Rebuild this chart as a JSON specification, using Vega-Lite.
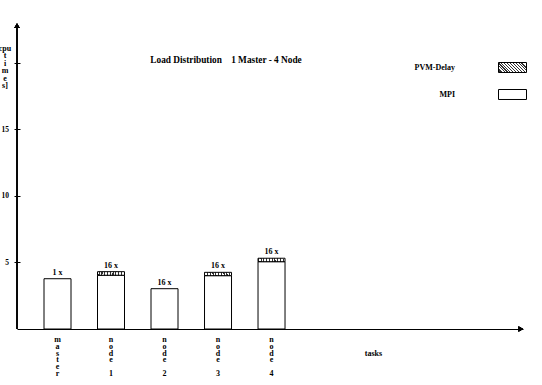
{
  "$schema": "https://vega.github.io/schema/vega-lite/v6.json",
  "width": 506,
  "height": 307,
  "autosize": {"type": "none"},
  "padding": {"left": 17, "top": 22, "right": 19, "bottom": 56},
  "background": "white",
  "title": {
    "text": "Load Distribution\u00a0\u00a0\u00a0 1 Master - 4 Node",
    "anchor": "middle",
    "frame": "group",
    "font": "Liberation Serif",
    "fontSize": 9.3,
    "fontWeight": "bold",
    "color": "black",
    "baseline": "alphabetic",
    "offset": 0,
    "dx": -44,
    "dy": 50
  },
  "config": {
    "view": {"stroke": null},
    "font": "Liberation Serif",
    "text": {"font": "Liberation Serif", "fontWeight": "bold", "fontSize": 8, "fill": "black"},
    "legend": {
      "orient": "none",
      "title": null,
      "padding": 0,
      "symbolType": "M-1,-0.357H1V0.357H-1Z",
      "symbolSize": 784,
      "symbolStrokeColor": "black",
      "symbolStrokeWidth": 1,
      "symbolOpacity": 1,
      "labelAlign": "right",
      "labelOffset": -72,
      "labelBaseline": "middle",
      "labelFont": "Liberation Serif",
      "labelFontWeight": "bold",
      "labelFontSize": 8,
      "labelColor": "black",
      "labelLimit": 0
    }
  },
  "data": {
    "values": [
      {"task": "master", "pos": 1, "MPI": 3.78, "PVM-Delay": 0, "runs": "1 x"},
      {"task": "node 1", "pos": 2, "MPI": 4.04, "PVM-Delay": 0.27, "runs": "16 x"},
      {"task": "node 2", "pos": 3, "MPI": 3.03, "PVM-Delay": 0, "runs": "16 x"},
      {"task": "node 3", "pos": 4, "MPI": 4.01, "PVM-Delay": 0.25, "runs": "16 x"},
      {"task": "node 4", "pos": 5, "MPI": 5.06, "PVM-Delay": 0.26, "runs": "16 x"}
    ]
  },
  "resolve": {"scale": {"stroke": "independent"}, "legend": {"stroke": "independent"}},
  "layer": [
    {
      "transform": [
        {"fold": ["MPI", "PVM-Delay"], "as": ["series", "time"]},
        {"stack": "time", "groupby": ["pos"], "sort": [{"field": "series", "order": "ascending"}], "as": ["t0", "t1"]},
        {"filter": "datum.series === 'MPI'"}
      ],
      "mark": {"type": "bar", "size": 27, "strokeWidth": 1, "fill": "white", "opacity": 1},
      "encoding": {
        "x": {
          "field": "pos",
          "type": "quantitative",
          "scale": {"domain": [0.243, 9.7], "nice": false, "zero": false, "padding": 0},
          "axis": {
            "domain": true,
            "domainColor": "black",
            "domainWidth": 1,
            "ticks": false,
            "labels": false,
            "grid": false,
            "title": "tasks",
            "titleFont": "Liberation Serif",
            "titleFontWeight": "bold",
            "titleFontSize": 8,
            "titleColor": "black",
            "titleX": 356,
            "titleY": 24,
            "titleAlign": "center",
            "titleBaseline": "middle"
          }
        },
        "y": {
          "field": "t1",
          "type": "quantitative",
          "scale": {"domain": [0, 23.08], "nice": false, "padding": 0},
          "axis": {
            "values": [5, 10, 15, 20],
            "labelExpr": "datum.value == 20 ? '' : datum.label",
            "domain": false,
            "grid": false,
            "ticks": true,
            "tickSize": 6,
            "tickColor": "black",
            "offset": -3,
            "labelPadding": 5.6,
            "labelFont": "Liberation Serif",
            "labelFontWeight": "bold",
            "labelFontSize": 7.5,
            "labelColor": "black",
            "title": ["cpu", "t", "i", "m", "e", "s]"],
            "titleAngle": 0,
            "titleAlign": "center",
            "titleBaseline": "alphabetic",
            "titleX": -15.5,
            "titleY": 28.5,
            "titleLineHeight": 7.4,
            "titleFont": "Liberation Serif",
            "titleFontWeight": "bold",
            "titleFontSize": 8,
            "titleColor": "black"
          }
        },
        "y2": {"field": "t0"},
        "stroke": {
          "field": "series",
          "type": "nominal",
          "scale": {"domain": ["MPI"], "range": ["black"]},
          "legend": {"legendX": 481, "legendY": 58}
        }
      }
    },
    {
      "transform": [
        {"fold": ["MPI", "PVM-Delay"], "as": ["series", "time"]},
        {"stack": "time", "groupby": ["pos"], "sort": [{"field": "series", "order": "ascending"}], "as": ["t0", "t1"]},
        {"filter": "datum.series === 'PVM-Delay' && datum.time > 0"}
      ],
      "mark": {
        "type": "bar",
        "size": 27,
        "strokeWidth": 1,
        "opacity": 1,
        "fill": {
          "gradient": "linear",
          "x1": 0, "y1": 0.68, "x2": 1, "y2": 0.32,
          "stops": [
            {"offset": 0, "color": "#333"}, {"offset": 0.036, "color": "#333"}, {"offset": 0.036, "color": "#fff"}, {"offset": 0.0909, "color": "#fff"},
            {"offset": 0.0909, "color": "#333"}, {"offset": 0.1273, "color": "#333"}, {"offset": 0.1273, "color": "#fff"}, {"offset": 0.1818, "color": "#fff"},
            {"offset": 0.1818, "color": "#333"}, {"offset": 0.2182, "color": "#333"}, {"offset": 0.2182, "color": "#fff"}, {"offset": 0.2727, "color": "#fff"},
            {"offset": 0.2727, "color": "#333"}, {"offset": 0.3091, "color": "#333"}, {"offset": 0.3091, "color": "#fff"}, {"offset": 0.3636, "color": "#fff"},
            {"offset": 0.3636, "color": "#333"}, {"offset": 0.4, "color": "#333"}, {"offset": 0.4, "color": "#fff"}, {"offset": 0.4545, "color": "#fff"},
            {"offset": 0.4545, "color": "#333"}, {"offset": 0.4909, "color": "#333"}, {"offset": 0.4909, "color": "#fff"}, {"offset": 0.5455, "color": "#fff"},
            {"offset": 0.5455, "color": "#333"}, {"offset": 0.5818, "color": "#333"}, {"offset": 0.5818, "color": "#fff"}, {"offset": 0.6364, "color": "#fff"},
            {"offset": 0.6364, "color": "#333"}, {"offset": 0.6727, "color": "#333"}, {"offset": 0.6727, "color": "#fff"}, {"offset": 0.7273, "color": "#fff"},
            {"offset": 0.7273, "color": "#333"}, {"offset": 0.7636, "color": "#333"}, {"offset": 0.7636, "color": "#fff"}, {"offset": 0.8182, "color": "#fff"},
            {"offset": 0.8182, "color": "#333"}, {"offset": 0.8545, "color": "#333"}, {"offset": 0.8545, "color": "#fff"}, {"offset": 0.9091, "color": "#fff"},
            {"offset": 0.9091, "color": "#333"}, {"offset": 0.9455, "color": "#333"}, {"offset": 0.9455, "color": "#fff"}, {"offset": 1, "color": "#fff"}
          ]
        }
      },
      "encoding": {
        "x": {"field": "pos", "type": "quantitative"},
        "y": {"field": "t1", "type": "quantitative"},
        "y2": {"field": "t0"},
        "stroke": {
          "field": "series",
          "type": "nominal",
          "scale": {"domain": ["PVM-Delay"], "range": ["black"]},
          "legend": {"legendX": 481, "legendY": 31}
        }
      }
    },
    {
      "transform": [{"fold": ["MPI", "PVM-Delay"], "as": ["series", "time"]}],
      "mark": {"type": "text", "dy": -6, "baseline": "middle", "align": "center"},
      "encoding": {
        "x": {"field": "pos", "type": "quantitative"},
        "y": {"aggregate": "sum", "field": "time", "type": "quantitative"},
        "text": {"field": "runs", "type": "nominal"}
      }
    },
    {
      "transform": [{"calculate": "split(replace(datum.task, ' ', '\u2800'), '')", "as": "chars"}],
      "mark": {"type": "text", "baseline": "top", "align": "center", "dy": 7, "lineHeight": 6.8},
      "encoding": {
        "x": {"field": "pos", "type": "quantitative"},
        "y": {"datum": 0, "type": "quantitative"},
        "text": {"field": "chars", "type": "nominal"}
      }
    },
    {
      "mark": {"type": "rule", "color": "black", "strokeWidth": 1},
      "encoding": {
        "x": {"datum": 0.243, "type": "quantitative"},
        "y": {"datum": 0, "type": "quantitative"},
        "y2": {"datum": 22.8}
      }
    },
    {
      "mark": {"type": "point", "shape": "triangle-up", "filled": true, "color": "black", "size": 30, "opacity": 1},
      "encoding": {
        "x": {"datum": 0.243, "type": "quantitative"},
        "y": {"datum": 22.8, "type": "quantitative"}
      }
    },
    {
      "mark": {"type": "point", "shape": "triangle-right", "filled": true, "color": "black", "size": 30, "opacity": 1},
      "encoding": {
        "x": {"datum": 9.66, "type": "quantitative"},
        "y": {"datum": 0, "type": "quantitative"}
      }
    }
  ]
}
